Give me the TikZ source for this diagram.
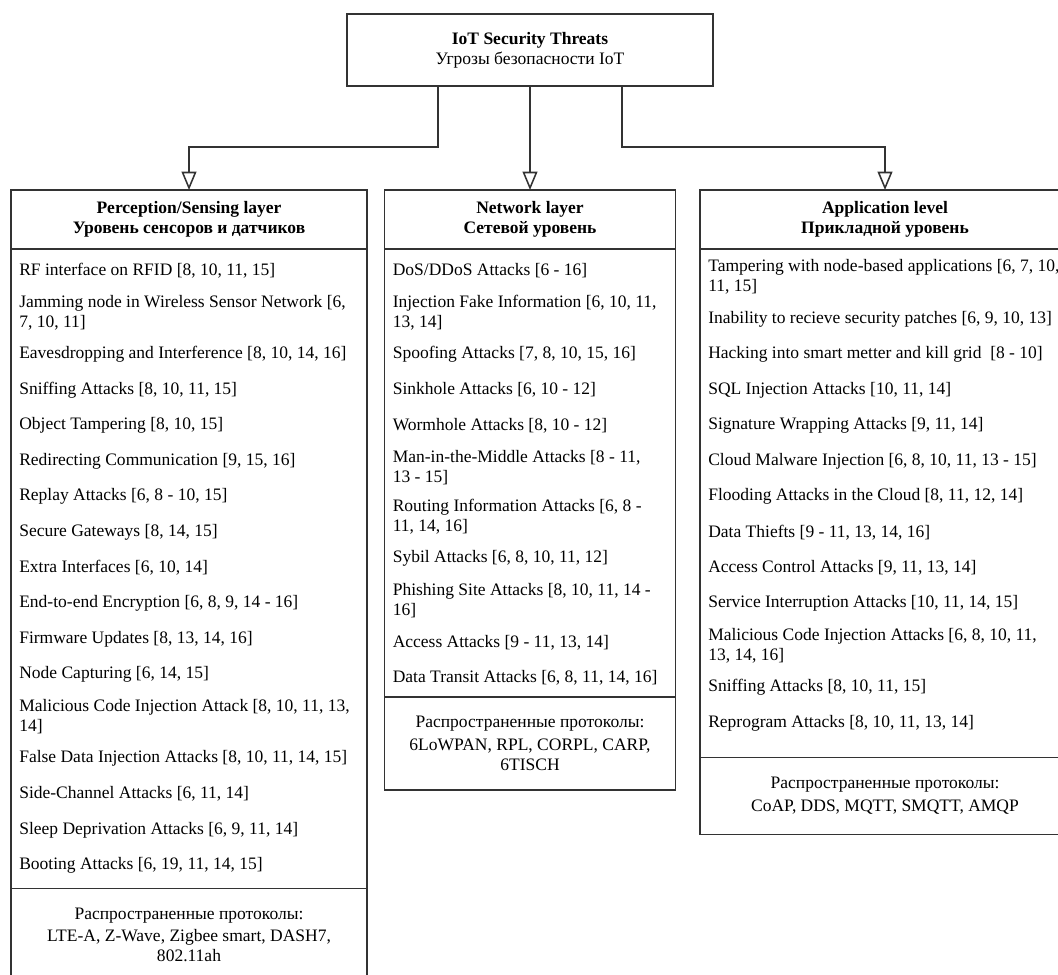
\documentclass[tikz,border=0pt]{standalone}
\usepackage{fontspec}
\setmainfont{Liberation Serif}
\usetikzlibrary{arrows.meta, positioning}
\newcommand{\threatfont}{\fontsize{12.45}{14.2}\selectfont}
\tikzset{
    rootbox/.style={rectangle, draw=black!80, line width=1.1pt, outer sep=0pt, align=center, minimum width=9.15cm, minimum height=1.8cm},
    layerhead/.style={rectangle, draw=black!80, line width=1.1pt, outer sep=0pt, align=center, font=\threatfont\bfseries, minimum height=1.475cm},
    threat/.style={rectangle, inner xsep=0.2cm, inner ysep=1pt, align=left, anchor=north west, minimum height=0.875cm},
    twoline/.style={minimum height=1.2cm},
    protocols/.style={rectangle, draw=black!80, line width=1.1pt, outer sep=0pt, align=center, anchor=north},
    listframe/.style={draw=black!80, line width=1.1pt},
    link/.style={draw=black!80, line width=1.1pt, -{Triangle[open, length=13pt, width=10.5pt]}}
}

\begin{document}
\begin{tikzpicture}[font=\threatfont]
        \useasboundingbox (0,0) rectangle (26.45,-24.35);

        % Root: IoT security threats
        \node (root) [rootbox] at (13.25,-1.25) {\textbf{IoT Security Threats}\\Угрозы безопасности IoT};

        % Layer headers
        \node (phead) [layerhead, minimum width=8.9cm] at (4.725,-5.4875) {Perception/Sensing layer\\Уровень сенсоров и датчиков};
        \node (nhead) [layerhead, minimum width=7.275cm] at (13.25,-5.4875) {Network layer\\Сетевой уровень};
        \node (ahead) [layerhead, minimum width=9.25cm] at (22.125,-5.4875) {Application level\\Прикладной уровень};

        % Perception/Sensing layer
        \node (p1) [threat] at ([yshift=-0.09cm]phead.south west) {RF interface on RFID [8, 10, 11, 15]};
        \node (p2) [threat, twoline] at (p1.south west) {Jamming node in Wireless Sensor Network [6,\\7, 10, 11]};
        \node (p3) [threat] at (p2.south west) {Eavesdropping and Interference [8, 10, 14, 16]};
        \node (p4) [threat] at (p3.south west) {Sniffing Attacks [8, 10, 11, 15]};
        \node (p5) [threat] at (p4.south west) {Object Tampering [8, 10, 15]};
        \node (p6) [threat] at (p5.south west) {Redirecting Communication [9, 15, 16]};
        \node (p7) [threat] at (p6.south west) {Replay Attacks [6, 8 - 10, 15]};
        \node (p8) [threat] at (p7.south west) {Secure Gateways [8, 14, 15]};
        \node (p9) [threat] at (p8.south west) {Extra Interfaces [6, 10, 14]};
        \node (p10) [threat] at (p9.south west) {End-to-end Encryption [6, 8, 9, 14 - 16]};
        \node (p11) [threat] at (p10.south west) {Firmware Updates [8, 13, 14, 16]};
        \node (p12) [threat] at (p11.south west) {Node Capturing [6, 14, 15]};
        \node (p13) [threat, twoline] at (p12.south west) {Malicious Code Injection Attack [8, 10, 11, 13,\\14]};
        \node (p14) [threat] at (p13.south west) {False Data Injection Attacks [8, 10, 11, 14, 15]};
        \node (p15) [threat] at (p14.south west) {Side-Channel Attacks [6, 11, 14]};
        \node (p16) [threat] at (p15.south west) {Sleep Deprivation Attacks [6, 9, 11, 14]};
        \node (p17) [threat] at (p16.south west) {Booting Attacks [6, 19, 11, 14, 15]};
        \node (pfoot) [protocols, minimum width=8.9cm, minimum height=2.325cm] at ([yshift=-0.13cm]phead.south |- p17.south) {Распространенные протоколы:\\[2pt]LTE-A, Z-Wave, Zigbee smart, DASH7,\\802.11ah};
        \draw[listframe] (phead.south west) rectangle (pfoot.north east);

        % Network layer
        \node (n1) [threat] at ([yshift=-0.09cm]nhead.south west) {DoS/DDoS Attacks [6 - 16]};
        \node (n2) [threat, twoline] at (n1.south west) {Injection Fake Information [6, 10, 11,\\13, 14]};
        \node (n3) [threat] at (n2.south west) {Spoofing Attacks [7, 8, 10, 15, 16]};
        \node (n4) [threat] at (n3.south west) {Sinkhole Attacks [6, 10 - 12]};
        \node (n5) [threat] at (n4.south west) {Wormhole Attacks [8, 10 - 12]};
        \node (n6) [threat, twoline] at (n5.south west) {Man-in-the-Middle Attacks [8 - 11,\\13 - 15]};
        \node (n7) [threat, twoline] at (n6.south west) {Routing Information Attacks [6, 8 -\\11, 14, 16]};
        \node (n8) [threat] at (n7.south west) {Sybil Attacks [6, 8, 10, 11, 12]};
        \node (n9) [threat, twoline] at (n8.south west) {Phishing Site Attacks [8, 10, 11, 14 -\\16]};
        \node (n10) [threat] at (n9.south west) {Access Attacks [9 - 11, 13, 14]};
        \node (n11) [threat] at (n10.south west) {Data Transit Attacks [6, 8, 11, 14, 16]};
        \node (nfoot) [protocols, minimum width=7.275cm, minimum height=2.325cm] at ([yshift=-0.03cm]nhead.south |- n11.south) {Распространенные протоколы:\\[2pt]6LoWPAN, RPL, CORPL, CARP,\\6TISCH};
        \draw[listframe] (nhead.south west) rectangle (nfoot.north east);

        % Application level
        \node (a1) [threat, twoline] at ([yshift=-0.09cm]ahead.south west) {Tampering with node-based applications [6, 7, 10,\\11, 15]};
        \node (a2) [threat] at (a1.south west) {Inability to recieve security patches [6, 9, 10, 13]};
        \node (a3) [threat] at (a2.south west) {Hacking into smart metter and kill grid\ \ [8 - 10]};
        \node (a4) [threat] at (a3.south west) {SQL Injection Attacks [10, 11, 14]};
        \node (a5) [threat] at (a4.south west) {Signature Wrapping Attacks [9, 11, 14]};
        \node (a6) [threat] at (a5.south west) {Cloud Malware Injection [6, 8, 10, 11, 13 - 15]};
        \node (a7) [threat] at (a6.south west) {Flooding Attacks in the Cloud [8, 11, 12, 14]};
        \node (a8) [threat] at (a7.south west) {Data Thiefts [9 - 11, 13, 14, 16]};
        \node (a9) [threat] at (a8.south west) {Access Control Attacks [9, 11, 13, 14]};
        \node (a10) [threat] at (a9.south west) {Service Interruption Attacks [10, 11, 14, 15]};
        \node (a11) [threat, twoline] at (a10.south west) {Malicious Code Injection Attacks [6, 8, 10, 11,\\13, 14, 16]};
        \node (a12) [threat] at (a11.south west) {Sniffing Attacks [8, 10, 11, 15]};
        \node (a13) [threat] at (a12.south west) {Reprogram Attacks [8, 10, 11, 13, 14]};
        \node (afoot) [protocols, minimum width=9.25cm, minimum height=1.925cm] at ([yshift=-0.41cm]ahead.south |- a13.south) {Распространенные протоколы:\\[2pt]CoAP, DDS, MQTT, SMQTT, AMQP};
        \draw[listframe] (ahead.south west) rectangle (afoot.north east);

        % Connectors
        \draw[link] ([xshift=-2.3cm]root.south) -- ++(0,-1.525) -| (phead.north);
        \draw[link] (root.south) -- (nhead.north);
        \draw[link] ([xshift=2.3cm]root.south) -- ++(0,-1.525) -| (ahead.north);
    \end{tikzpicture}
\end{document}
